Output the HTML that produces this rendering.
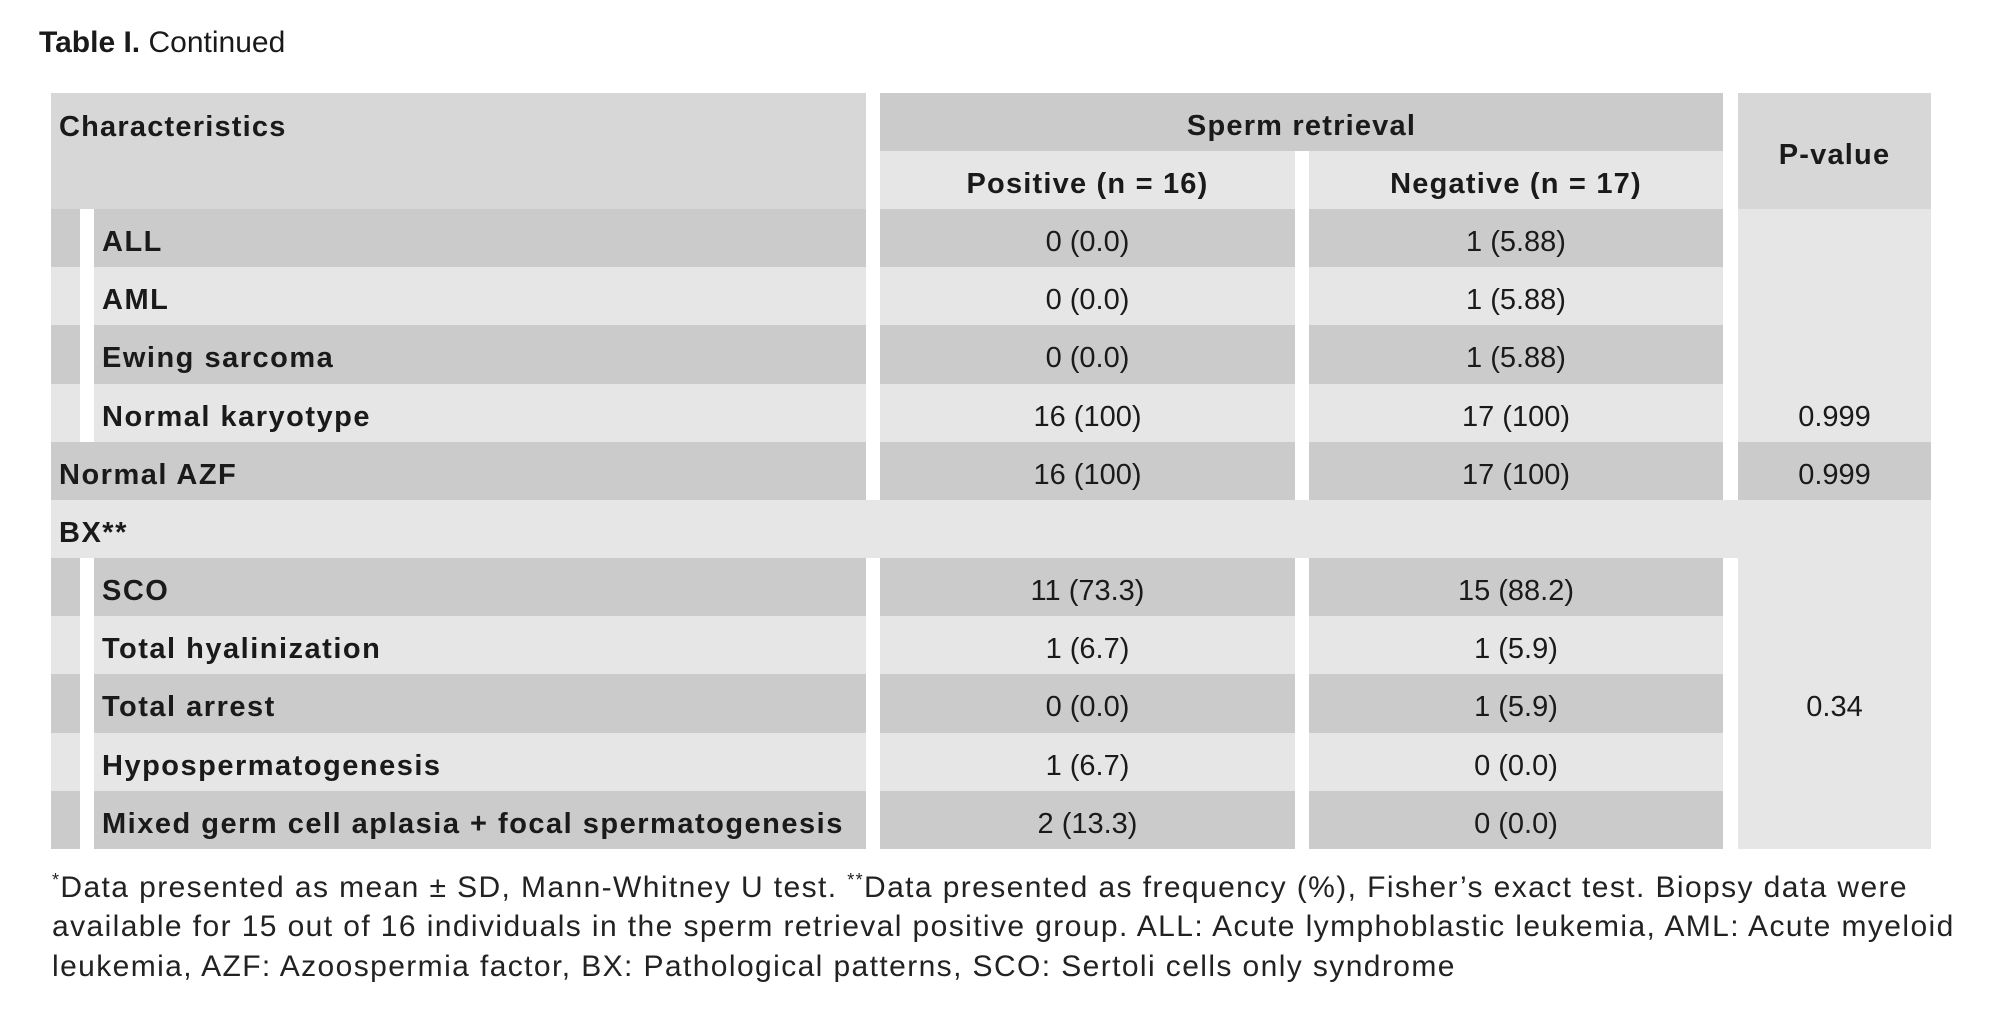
<!DOCTYPE html>
<html><head><meta charset="utf-8"><style>
body{margin:0;width:2000px;height:1010px;background:#fff;font-family:"Liberation Sans",sans-serif;color:#1a1a1a;position:relative;overflow:hidden}
.c{position:absolute;display:flex;align-items:center;font-size:29px;box-sizing:border-box;padding-top:8px}
.b{font-weight:bold;letter-spacing:1.5px}
.hb{font-weight:bold;letter-spacing:1.2px}
.ctr{justify-content:center}
.d{background:#cbcbcb}.l{background:#e6e6e6}.h{background:#d7d7d7}
.w{position:absolute;background:#fff}
.f{position:absolute;left:52px;font-size:30px;letter-spacing:1.4px;white-space:nowrap;color:#222}
</style></head><body>
<div style="position:absolute;left:39px;top:26px;font-size:30px;white-space:nowrap"><b>Table I.</b> Continued</div>

<div class="c h hb" style="left:51px;top:93px;width:815px;height:116px;align-items:flex-start;padding:18px 0 0 8px">Characteristics</div>
<div class="c d hb ctr" style="left:880px;top:93px;width:843px;height:58px">Sperm retrieval</div>
<div class="c l hb ctr" style="left:880px;top:151px;width:415px;height:58px">Positive (n = 16)</div>
<div class="c l hb ctr" style="left:1309px;top:151px;width:414px;height:58px">Negative (n = 17)</div>
<div class="c h hb ctr" style="left:1738px;top:93px;width:193px;height:116px">P-value</div>

<div class="c d b" style="left:51px;top:209px;width:815px;height:58px;padding-left:51px">ALL</div>
<div class="c d ctr" style="left:880px;top:209px;width:415px;height:58px">0 (0.0)</div>
<div class="c d ctr" style="left:1309px;top:209px;width:414px;height:58px">1 (5.88)</div>
<div class="c l b" style="left:51px;top:267px;width:815px;height:58px;padding-left:51px">AML</div>
<div class="c l ctr" style="left:880px;top:267px;width:415px;height:58px">0 (0.0)</div>
<div class="c l ctr" style="left:1309px;top:267px;width:414px;height:58px">1 (5.88)</div>
<div class="c d b" style="left:51px;top:325px;width:815px;height:59px;padding-left:51px">Ewing sarcoma</div>
<div class="c d ctr" style="left:880px;top:325px;width:415px;height:59px">0 (0.0)</div>
<div class="c d ctr" style="left:1309px;top:325px;width:414px;height:59px">1 (5.88)</div>
<div class="c l b" style="left:51px;top:384px;width:815px;height:58px;padding-left:51px">Normal karyotype</div>
<div class="c l ctr" style="left:880px;top:384px;width:415px;height:58px">16 (100)</div>
<div class="c l ctr" style="left:1309px;top:384px;width:414px;height:58px">17 (100)</div>
<div class="c l ctr" style="left:1738px;top:209px;width:193px;height:175px"></div>
<div class="c l ctr" style="left:1738px;top:384px;width:193px;height:58px">0.999</div>
<div class="w" style="left:80px;top:209px;width:14px;height:233px"></div>

<div class="c d b" style="left:51px;top:442px;width:815px;height:58px;padding-left:8px">Normal AZF</div>
<div class="c d ctr" style="left:880px;top:442px;width:415px;height:58px">16 (100)</div>
<div class="c d ctr" style="left:1309px;top:442px;width:414px;height:58px">17 (100)</div>
<div class="c d ctr" style="left:1738px;top:442px;width:193px;height:58px">0.999</div>

<div class="c l b" style="left:51px;top:500px;width:1880px;height:58px;padding-left:8px">BX**</div>

<div class="c d b" style="left:51px;top:558px;width:815px;height:58px;padding-left:51px">SCO</div>
<div class="c d ctr" style="left:880px;top:558px;width:415px;height:58px">11 (73.3)</div>
<div class="c d ctr" style="left:1309px;top:558px;width:414px;height:58px">15 (88.2)</div>
<div class="c l b" style="left:51px;top:616px;width:815px;height:58px;padding-left:51px">Total hyalinization</div>
<div class="c l ctr" style="left:880px;top:616px;width:415px;height:58px">1 (6.7)</div>
<div class="c l ctr" style="left:1309px;top:616px;width:414px;height:58px">1 (5.9)</div>
<div class="c d b" style="left:51px;top:674px;width:815px;height:59px;padding-left:51px">Total arrest</div>
<div class="c d ctr" style="left:880px;top:674px;width:415px;height:59px">0 (0.0)</div>
<div class="c d ctr" style="left:1309px;top:674px;width:414px;height:59px">1 (5.9)</div>
<div class="c l b" style="left:51px;top:733px;width:815px;height:58px;padding-left:51px">Hypospermatogenesis</div>
<div class="c l ctr" style="left:880px;top:733px;width:415px;height:58px">1 (6.7)</div>
<div class="c l ctr" style="left:1309px;top:733px;width:414px;height:58px">0 (0.0)</div>
<div class="c d b" style="left:51px;top:791px;width:815px;height:58px;padding-left:51px">Mixed germ cell aplasia + focal spermatogenesis</div>
<div class="c d ctr" style="left:880px;top:791px;width:415px;height:58px">2 (13.3)</div>
<div class="c d ctr" style="left:1309px;top:791px;width:414px;height:58px">0 (0.0)</div>
<div class="c l ctr" style="left:1738px;top:558px;width:193px;height:291px">0.34</div>
<div class="w" style="left:80px;top:558px;width:14px;height:291px"></div>

<div class="f" style="top:870px"><sup style="font-size:18px">*</sup>Data presented as mean ± SD, Mann-Whitney U test. <sup style="font-size:18px">**</sup>Data presented as frequency (%), Fisher’s exact test. Biopsy data were</div>
<div class="f" style="top:910px">available for 15 out of 16 individuals in the sperm retrieval positive group. ALL: Acute lymphoblastic leukemia, AML: Acute myeloid</div>
<div class="f" style="top:950px">leukemia, AZF: Azoospermia factor, BX: Pathological patterns, SCO: Sertoli cells only syndrome</div>
</body></html>
